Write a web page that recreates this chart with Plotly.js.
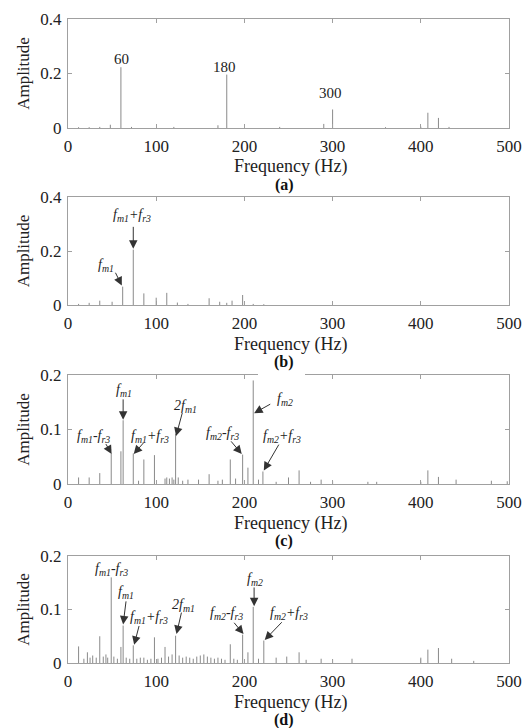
<!DOCTYPE html>
<html>
<head>
<meta charset="utf-8">
<script src="https://cdn.plot.ly/plotly-3.0.1.min.js"></script>
<style>html,body{margin:0;padding:0;background:#fff;}#chart{width:531px;height:728px;}</style>
</head>
<body>
<div id="chart"></div>
<script>
// ---- data ----
var freqA = [12, 24, 36, 48, 60, 72, 120, 170, 180, 240, 290, 300, 360, 400, 408, 420, 432];
var ampA  = [0.003, 0.003, 0.004, 0.012, 0.223, 0.004, 0.004, 0.01, 0.196, 0.004, 0.015, 0.068, 0.003, 0.005, 0.056, 0.037, 0.004];

var freqB = [12, 24, 36, 50, 62, 74, 86, 100, 112, 124, 136, 160, 172, 180, 186, 198, 210, 222];
var ampB  = [0.004, 0.008, 0.016, 0.012, 0.068, 0.205, 0.043, 0.027, 0.045, 0.009, 0.004, 0.025, 0.012, 0.008, 0.016, 0.037, 0.004, 0.003];

var freqC = [12, 24, 36, 49, 60, 62.5, 74, 80, 86, 98, 110, 112, 115, 118, 120, 122, 125, 130, 136, 148,
             160, 170, 175, 184, 190, 198, 204, 210, 216, 221, 236, 250, 262, 275, 287, 300, 340, 350, 400, 408,
             420, 440, 480, 498];
var ampC  = [0.012, 0.012, 0.02, 0.056, 0.06, 0.117, 0.056, 0.006, 0.045, 0.053, 0.01, 0.012, 0.01, 0.012, 0.008, 0.092, 0.012, 0.006, 0.008, 0.008,
             0.018, 0.006, 0.008, 0.045, 0.01, 0.054, 0.03, 0.19, 0.008, 0.023, 0.004, 0.012, 0.025, 0.004, 0.008, 0.005, 0.004, 0.004, 0.004, 0.025,
             0.013, 0.008, 0.006, 0.005];

var freqD = [12, 18, 22, 25, 28, 32, 36, 40, 43, 45, 49, 52, 56, 60, 62.5, 66, 70, 74, 78, 82,
             86, 90, 94, 98, 102, 106, 110, 114, 118, 122, 126, 130, 134, 138, 142, 146, 150, 154, 158, 162,
             166, 170, 174, 178, 184, 188, 192, 198, 204, 210, 216, 222, 236, 248, 262, 270, 287, 300, 322, 400,
             408, 420, 435, 460];
var ampD  = [0.031, 0.008, 0.02, 0.01, 0.014, 0.01, 0.05, 0.012, 0.016, 0.01, 0.16, 0.012, 0.008, 0.03, 0.07, 0.01, 0.008, 0.033, 0.008, 0.01,
             0.01, 0.006, 0.008, 0.048, 0.008, 0.01, 0.03, 0.012, 0.016, 0.051, 0.014, 0.01, 0.012, 0.01, 0.008, 0.012, 0.014, 0.016, 0.012, 0.01,
             0.008, 0.01, 0.008, 0.006, 0.035, 0.008, 0.006, 0.053, 0.02, 0.105, 0.008, 0.042, 0.01, 0.012, 0.02, 0.006, 0.008, 0.007, 0.008, 0.01,
             0.025, 0.028, 0.008, 0.004];

var xTicks = [0, 100, 200, 300, 400, 500];
var panelLetters = ['(a)', '(b)', '(c)', '(d)'];
var yMax = [0.4, 0.4, 0.2, 0.2];
var yStep = [0.2, 0.2, 0.1, 0.1];
var xTitle = 'Frequency (Hz)';
var yTitle = 'Amplitude';

// labels: [text, x, y]
var labelsA = [['60', 61, 0.252], ['180', 177, 0.224], ['300', 298, 0.13]];
// arrows: [text, textX, textY, tailX, tailY, headX, headY]
var notesB = [
  ['f<sub>m1</sub>+f<sub>r3</sub>', 72, 0.33, 74, 0.295, 74, 0.208],
  ['f<sub>m1</sub>', 43, 0.148, 53, 0.125, 61, 0.072]
];
var notesC = [
  ['f<sub>m1</sub>-f<sub>r3</sub>', 29, 0.088, 42, 0.076, 49.5, 0.055],
  ['f<sub>m1</sub>', 63, 0.171, 62.5, 0.158, 62.5, 0.118],
  ['f<sub>m1</sub>+f<sub>r3</sub>', 93, 0.088, 87, 0.078, 74.5, 0.055],
  ['2f<sub>m1</sub>', 133, 0.142, 130, 0.133, 122.5, 0.088],
  ['f<sub>m2</sub>-f<sub>r3</sub>', 175, 0.093, 183.5, 0.081, 197, 0.055],
  ['f<sub>m2</sub>', 246, 0.155, 231, 0.148, 211, 0.13],
  ['f<sub>m2</sub>+f<sub>r3</sub>', 243, 0.088, 240, 0.075, 222, 0.025]
];
var notesD = [
  ['f<sub>m1</sub>-f<sub>r3</sub>', 49, 0.174, null, null, null, null],
  ['f<sub>m1</sub>', 66, 0.131, 66, 0.118, 62.5, 0.072],
  ['f<sub>m1</sub>+f<sub>r3</sub>', 92, 0.085, 81, 0.072, 75, 0.034],
  ['2f<sub>m1</sub>', 131, 0.108, 129, 0.097, 123, 0.054],
  ['f<sub>m2</sub>-f<sub>r3</sub>', 180, 0.092, 187, 0.078, 199, 0.054],
  ['f<sub>m2</sub>', 212, 0.157, 211, 0.144, 211, 0.106],
  ['f<sub>m2</sub>+f<sub>r3</sub>', 250, 0.092, 244, 0.079, 223, 0.043]
];

// ---- build ----
var serif = 'Liberation Serif, DejaVu Serif, Noto Serif, serif';
var lineCol = '#8a8a8a';
var frameCol = '#a0a0a0';
var txtCol = '#222';

function stems(fr, am, idx) {
  var xs = [], ys = [];
  for (var i = 0; i < fr.length; i++) {
    xs.push(fr[i], fr[i], null);
    ys.push(0, am[i], null);
  }
  var s = idx === 0 ? '' : String(idx + 1);
  return {x: xs, y: ys, type: 'scatter', mode: 'lines', xaxis: 'x' + s, yaxis: 'y' + s,
          line: {color: lineCol, width: 1}, hoverinfo: 'skip', showlegend: false};
}

var data = [stems(freqA, ampA, 0), stems(freqB, ampB, 1), stems(freqC, ampC, 2), stems(freqD, ampD, 3)];

// pixel geometry of plot areas (top, bottom)
var H = 728, W = 531;
var boxes = [[19, 128], [197, 305], [375, 484], [556, 663]];
var xDom = [68 / W, 509 / W];

var layout = {
  width: W, height: H,
  margin: {l: 0, r: 0, t: 0, b: 0},
  paper_bgcolor: '#fff', plot_bgcolor: '#fff',
  font: {family: serif, color: txtCol, size: 16},
  showlegend: false,
  annotations: [], shapes: []
};

for (var p = 0; p < 4; p++) {
  var s = p === 0 ? '' : String(p + 1);
  var yd = [1 - boxes[p][1] / H, 1 - boxes[p][0] / H];
  var yt = [];
  for (var v = 0; v <= yMax[p] + 1e-9; v += yStep[p]) yt.push(+v.toFixed(2));
  layout['xaxis' + s] = {
    domain: xDom, range: [0, 500], anchor: 'y' + s,
    tickvals: xTicks, ticks: 'inside', ticklen: 4, tickcolor: frameCol,
    showline: true, linecolor: frameCol, linewidth: 1, mirror: 'ticks',
    showgrid: false, zeroline: false, fixedrange: true, ticklabelstandoff: 3,
    tickfont: {family: serif, size: 17, color: txtCol}
  };
  layout['yaxis' + s] = {
    domain: yd, range: [0, yMax[p]], anchor: 'x' + s,
    tickvals: yt, ticks: 'inside', ticklen: 4, tickcolor: frameCol,
    showline: true, linecolor: frameCol, linewidth: 1, mirror: 'ticks',
    showgrid: false, zeroline: false, fixedrange: true, ticklabelstandoff: 2,
    tickfont: {family: serif, size: 17, color: txtCol},
    title: {text: yTitle, font: {family: serif, size: 17, color: txtCol}, standoff: 6}
  };
  layout.annotations.push({
    text: xTitle, xref: 'paper', yref: 'paper',
    x: 290 / W, y: 1 - (boxes[p][1] + 39) / H, xanchor: 'center', yanchor: 'middle',
    showarrow: false, font: {family: serif, size: 18, color: txtCol}
  });
  layout.annotations.push({
    text: '<b>' + panelLetters[p] + '</b>', xref: 'paper', yref: 'paper',
    x: 284 / W, y: 1 - (boxes[p][1] + 57) / H, xanchor: 'center', yanchor: 'middle',
    showarrow: false, font: {family: serif, size: 16, color: '#111'}
  });
}

// gap in the top frame of panel (c), as in the reference
layout.shapes.push({type: 'rect', xref: 'paper', yref: 'paper', layer: 'above',
  x0: 258 / W, x1: 305 / W, y0: 1 - 377 / H, y1: 1 - 372 / H,
  fillcolor: '#fff', line: {width: 0}});

labelsA.forEach(function (l) {
  layout.annotations.push({text: l[0], x: l[1], y: l[2], xref: 'x', yref: 'y',
    showarrow: false, font: {family: serif, size: 15, color: txtCol}});
});

function addNotes(notes, idx) {
  var s = idx === 0 ? '' : String(idx + 1);
  notes.forEach(function (n) {
    layout.annotations.push({text: '<i>' + n[0] + '</i>', x: n[1], y: n[2], xref: 'x' + s, yref: 'y' + s,
      showarrow: false, font: {family: serif, size: 14, color: txtCol}});
    if (n[3] !== null) {
      layout.annotations.push({text: '', x: n[5], y: n[6], ax: n[3], ay: n[4],
        xref: 'x' + s, yref: 'y' + s, axref: 'x' + s, ayref: 'y' + s,
        showarrow: true, arrowhead: 2, arrowsize: 1.7, arrowwidth: 1, arrowcolor: '#333', standoff: 0});
    }
  });
}
addNotes(notesB, 1);
addNotes(notesC, 2);
addNotes(notesD, 3);

Plotly.newPlot('chart', data, layout, {staticPlot: true, displayModeBar: false});
</script>
</body>
</html>
